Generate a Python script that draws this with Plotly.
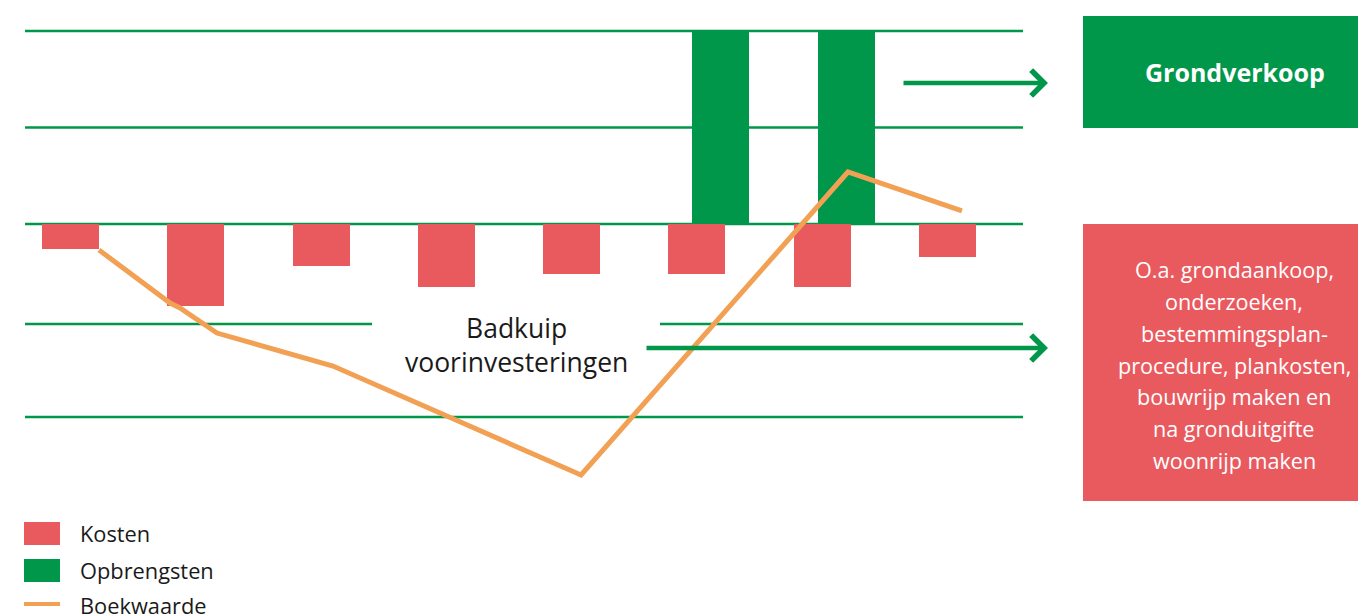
import plotly.graph_objects as go

W, H = 1358, 615

# ---- data ----
periods = [0, 1, 2, 3, 4, 5, 6, 7]
kosten = [-0.26, -0.85, -0.435, -0.65, -0.52, -0.52, -0.65, -0.34]
opbrengst_periods = [5, 6]
opbrengsten = [2.0, 2.0]
boek_x = [0.227, 0.795, 0.874, 1.169, 2.095, 4.075, 6.205, 7.115]
boek_y = [-0.269, -0.819, -0.870, -1.130, -1.472, -2.601, 0.539, 0.135]
grid_levels = [2.0, 1.0, 0.0, -1.035, -2.0]

legend_names = ["Kosten", "Opbrengsten", "Boekwaarde"]
box_green_text = "Grondverkoop"
box_red_lines = ["O.a. grondaankoop,", "onderzoeken,", "bestemmingsplan-",
                 "procedure, plankosten,", "bouwrijp maken en",
                 "na gronduitgifte", "woonrijp maken"]
badkuip_lines = ["Badkuip", "voorinvesteringen"]

RED = "#E95A5F"
GREEN = "#00974A"
ORANGE = "#F2A154"
FONT = "Open Sans"

# ---- layout helpers (pixel -> paper) ----
def px(x):
    return x / W

def py(y):
    return 1 - y / H

# axis scale: category centre at 70.5px, 125.29px apart; zero at 224px, 96.5px per unit
x0_px, dx_px = 70.5, 125.29
y0_px, dy_px = 224.0, 96.5
x_range = [(0 - x0_px) / dx_px, (W - x0_px) / dx_px]
y_range = [-(H - y0_px) / dy_px, y0_px / dy_px]

bar_w = 57 / dx_px

fig = go.Figure()
fig.add_trace(go.Bar(x=periods, y=kosten, name=legend_names[0], width=bar_w,
                     marker=dict(color=RED, line=dict(width=0)), showlegend=False))
fig.add_trace(go.Bar(x=opbrengst_periods, y=opbrengsten, name=legend_names[1], width=bar_w,
                     offset=-bar_w / 2 + 24 / dx_px,
                     marker=dict(color=GREEN, line=dict(width=0)), showlegend=False))
fig.add_trace(go.Scatter(x=boek_x, y=boek_y, name=legend_names[2], mode="lines",
                         line=dict(color=ORANGE, width=5), showlegend=False))

shapes = []
# gridlines
for i, lv in enumerate(grid_levels):
    if i == 3:
        segs = [(25, 372), (660, 1023)]
    else:
        segs = [(25, 1023)]
    for a, b in segs:
        shapes.append(dict(type="line", xref="paper", yref="y", x0=px(a), x1=px(b),
                           y0=lv, y1=lv, line=dict(color=GREEN, width=2.5), layer="below"))
# boxes
shapes.append(dict(type="rect", xref="paper", yref="paper", x0=px(1083), x1=px(1358),
                   y0=py(128), y1=py(16), fillcolor=GREEN, line=dict(width=0)))
shapes.append(dict(type="rect", xref="paper", yref="paper", x0=px(1083), x1=px(1358),
                   y0=py(501), y1=py(224), fillcolor=RED, line=dict(width=0)))
# legend symbols
shapes.append(dict(type="rect", xref="paper", yref="paper", x0=px(24), x1=px(60),
                   y0=py(545), y1=py(522), fillcolor=RED, line=dict(width=0)))
shapes.append(dict(type="rect", xref="paper", yref="paper", x0=px(24), x1=px(60),
                   y0=py(582), y1=py(559), fillcolor=GREEN, line=dict(width=0)))
shapes.append(dict(type="line", xref="paper", yref="paper", x0=px(24), x1=px(60),
                   y0=py(604), y1=py(604), line=dict(color=ORANGE, width=4)))

annotations = []
# arrows
for y_px, x_tail, x_head in [(83, 902, 1048), (348, 645, 1048)]:
    annotations.append(dict(xref="paper", yref="paper", x=px(x_head), y=py(y_px),
                            ax=-(x_head - x_tail), ay=0, text="", showarrow=True,
                            arrowhead=4, arrowsize=1.1, arrowwidth=4.5,
                            arrowcolor=GREEN, standoff=0))
# box texts
annotations.append(dict(xref="paper", yref="paper", x=px(1235), y=py(72),
                        text="<b>" + box_green_text + "</b>", showarrow=False,
                        font=dict(family=FONT, size=25, color="white"),
                        xanchor="center", yanchor="middle"))
for i, line in enumerate(box_red_lines):
    annotations.append(dict(xref="paper", yref="paper", x=px(1234), y=py(270 + 31.7 * i),
                            text=line, showarrow=False,
                            font=dict(family=FONT, size=21.6, color="white"),
                            xanchor="center", yanchor="middle"))
annotations.append(dict(xref="paper", yref="paper", x=px(516), y=py(345),
                        text="<br>".join(badkuip_lines), showarrow=False, align="center",
                        font=dict(family=FONT, size=26.5, color="#1a1a1a"),
                        xanchor="center", yanchor="middle"))
# legend labels
for name, y_px in zip(legend_names, [533, 570, 605]):
    annotations.append(dict(xref="paper", yref="paper", x=px(78), y=py(y_px), text=name,
                            showarrow=False, xanchor="left", yanchor="middle",
                            font=dict(family=FONT, size=21.8, color="#1a1a1a")))

fig.update_layout(
    width=W, height=H, margin=dict(l=0, r=0, t=0, b=0),
    paper_bgcolor="white", plot_bgcolor="white",
    barmode="overlay", bargap=0,
    xaxis=dict(range=x_range, visible=False, fixedrange=True),
    yaxis=dict(range=y_range, visible=False, fixedrange=True),
    shapes=shapes, annotations=annotations, showlegend=False,
    font=dict(family=FONT),
)

fig.write_html("out.html", config={"displayModeBar": False},
               post_script="document.body.style.margin='0';document.body.style.padding='0';")
